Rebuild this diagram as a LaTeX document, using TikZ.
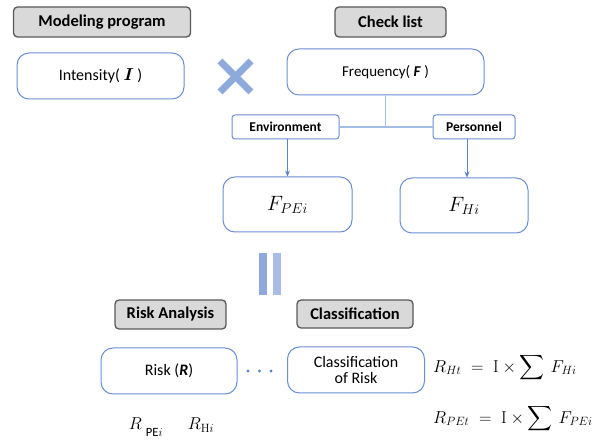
\documentclass[tikz,border=0pt]{standalone}
\usepackage{amsmath}
\usepackage{bm}
\usepackage[no-math]{fontspec}
\setmainfont{Carlito}
\usetikzlibrary{arrows.meta}
\definecolor{hdrfill}{HTML}{D9D9D9}
\definecolor{hdrline}{HTML}{595959}
\definecolor{boxline}{HTML}{6A8FD6}
\definecolor{conline}{HTML}{A4BDE8}
\definecolor{arrline}{HTML}{5B84D0}
\definecolor{xcol}{HTML}{8EA9DB}
\definecolor{barA}{HTML}{8FA8DD}
\definecolor{barB}{HTML}{A9BCE6}
\tikzset{
  hdr/.style={draw=hdrline, fill=hdrfill, line width=1.3pt, rounded corners=4pt,
    font=\fontsize{16.5}{18}\selectfont\bfseries, inner sep=0pt},
  bbox/.style={draw=boxline, fill=white, line width=1pt, rounded corners=12pt, inner sep=0pt,
    font=\fontsize{16}{18}\selectfont, align=center},
  sbox/.style={draw=boxline, fill=white, line width=1pt, rounded corners=3pt, inner sep=0pt,
    font=\fontsize{13.5}{15}\selectfont\bfseries},
  con/.style={draw=conline, line width=1.2pt},
  arr/.style={draw=arrline, line width=0.8pt, -{Stealth[length=6pt,width=5pt]}},
}
\begin{document}
\begin{tikzpicture}[x=1pt,y=-1pt]
\useasboundingbox (0,0) rectangle (613,443);
% headers
\node[hdr, minimum width=177pt, minimum height=30pt] (mp) at (102,22) {Modeling program};
\node[hdr, minimum width=111pt, minimum height=30pt] (cl) at (390.5,22) {Check list};
\node[hdr, minimum width=111pt, minimum height=29pt] (ra) at (170.5,314.5) {Risk Analysis};
\node[hdr, minimum width=116pt, minimum height=28pt] (cf) at (355,314) {Classification};
% main boxes
\node[bbox, minimum width=167pt, minimum height=46pt] (int) at (100.5,76) {Intensity( $\bm{I}$ )};
\node[bbox, minimum width=197pt, minimum height=46pt, font=\fontsize{15}{18}\selectfont] (freq) at (385.5,72) {Frequency( \textbf{\textit{F}} )};
\node[sbox, minimum width=107pt, minimum height=24pt] (env) at (285.5,127) {Environment};
\node[sbox, minimum width=82pt, minimum height=24pt] (pers) at (474,127) {Personnel};
\node[bbox, minimum width=129pt, minimum height=55pt, font=\fontsize{20}{22}\selectfont] (fpe) at (287.5,204.5) {$F_{PEi}$};
\node[bbox, minimum width=128pt, minimum height=55pt, font=\fontsize{20}{22}\selectfont] (fh) at (464,205.5) {$F_{Hi}$};
\node[bbox, minimum width=136pt, minimum height=46pt] (risk) at (169,371) {Risk (\textbf{\textit{R}})};
\node[bbox, minimum width=137pt, minimum height=46pt, font=\fontsize{16}{16.5}\selectfont] (cr) at (356,370) {Classification\\of Risk};
% connectors
\coordinate (jn) at (freq.south |- env.east);
\draw[con] (freq.south) -- (jn);
\draw[con] (env.east) -- (pers.west);
\draw[arr] (env.south -| fpe.north) -- (fpe.north);
\coordinate (fht) at ([xshift=3pt]fh.north);
\draw[arr] (pers.south -| fht) -- (fht);
% times mark
\node[minimum size=33pt, inner sep=0pt] (xm) at (235.5,76.5) {};
\draw[xcol, line width=7pt] (xm.center) ++(-15.5,-15.5) -- ++(31,31);
\draw[xcol, line width=7pt] (xm.center) ++(15.5,-15.5) -- ++(-31,31);
% equals bars
\node[fill=barA, minimum width=8pt, minimum height=42pt, inner sep=0pt] (b1) at (263,274) {};
\node[fill=barB, minimum width=8pt, minimum height=42pt, inner sep=0pt] (b2) at (277,274) {};
% dots
\foreach \i/\xx in {1/248,2/259.5,3/271}{
  \node[circle, fill=arrline, minimum size=3.2pt, inner sep=0pt] (d\i) at (\xx,371) {};
}
% formulas
\node[font=\fontsize{18}{20}\selectfont, inner sep=0pt] (rpe) at (146,427) {$R_{\raisebox{-4pt}{$\scriptstyle\ \text{PE}i$}}$};
\node[font=\fontsize{18}{20}\selectfont, inner sep=0pt] (rh) at (201,425) {$R_{\mathrm{H}i}$};
\node[anchor=west, font=\fontsize{17.5}{19}\selectfont, inner sep=0pt] (eq1) at (433,368) {$R_{Ht}\;=\;\mathrm{I}\times\displaystyle\sum\, F_{Hi}$};
\node[anchor=west, font=\fontsize{17.5}{19}\selectfont, inner sep=0pt] (eq2) at (433,419) {$R_{PEt}\;=\;\mathrm{I}\times\displaystyle\sum\, F_{PEi}$};
\end{tikzpicture}
\end{document}
